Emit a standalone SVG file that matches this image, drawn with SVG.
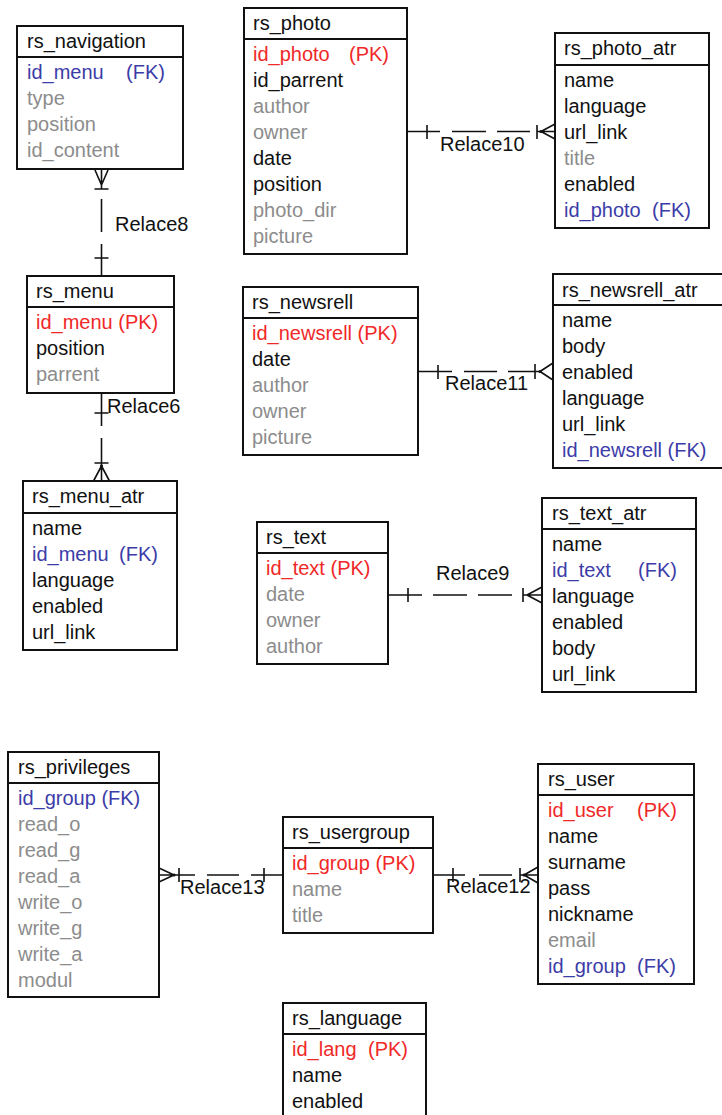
<svg xmlns="http://www.w3.org/2000/svg" width="722" height="1115" viewBox="0 0 722 1115">
  <style>
    text { font-family: "Liberation Sans", Arial, sans-serif; font-size: 20px; fill: #111; }
    .box { fill: #fff; stroke: #111; stroke-width: 2; }
    .sep { stroke: #111; stroke-width: 2; }
    .pk { fill: #f02828; }
    .fk { fill: #3c3ca8; }
    .opt { fill: #8c8c8c; }
    .rel { fill: none; stroke: #111; stroke-width: 1.6; }
    .dot { fill: #111; }
  </style>
  <rect width="722" height="1115" fill="#fff"/>

  <!-- Connectors (dashed non-identifying relationships) -->
  <g id="connectors">
    <!-- Relace8: rs_menu 1 : N rs_navigation -->
    <path class="rel" d="M95 170 L101.5 185 L108 170 M101.5 170 V189 M94.5 189 H108.5 M101.5 199 V232 M101.5 244 V276 M94.5 258 H108.5"/>
    <text x="115" y="231">Relace8</text>
    <!-- Relace6: rs_menu 1 : N rs_menu_atr -->
    <path class="rel" d="M101.5 393 V426 M94.5 413 H108.5 M101.5 438 V481 M94.5 463 H108.5 M101.5 466 L93.5 481 M101.5 466 L109.5 481"/>
    <circle class="dot" cx="101.5" cy="466" r="1.6"/>
    <text x="107" y="413">Relace6</text>
    <!-- Relace10: rs_photo 1 : N rs_photo_atr -->
    <path class="rel" d="M407 131.5 H440 M427 125 V139 M452 131.5 H486 M497 131.5 H530 M537 125 V139 M537 131.5 H555 M541 131.5 L555 124 M541 131.5 L555 139"/>
    <circle class="dot" cx="541" cy="131.5" r="1.6"/>
    <text x="440" y="151">Relace10</text>
    <!-- Relace11: rs_newsrell 1 : N rs_newsrell_atr -->
    <path class="rel" d="M418 371.5 H452 M438 365 V379 M464 371.5 H497 M508 371.5 H540 M535 364 V379 M540 371.5 L553 363 M540 371.5 L553 380"/>
    <circle class="dot" cx="540" cy="371.5" r="1.6"/>
    <text x="445" y="390">Relace11</text>
    <!-- Relace9: rs_text 1 : N rs_text_atr -->
    <path class="rel" d="M388 595 H422 M408 588 V602 M433 595 H467 M478 595 H512 M523 588 V602 M523 595 H542 M527 595 L542 587 M527 595 L542 603"/>
    <text x="436" y="580">Relace9</text>
    <!-- Relace12: rs_usergroup 1 : N rs_user -->
    <path class="rel" d="M433 875 H465 M453 868 V882 M479 875 H512 M520 868 V882 M520 875 H538 M524 875 L538 867 M524 875 L538 883"/>
    <circle class="dot" cx="524" cy="875" r="1.6"/>
    <text x="446" y="893">Relace12</text>
    <!-- Relace13: rs_usergroup 1 : N rs_privileges -->
    <path class="rel" d="M159 868 L174 875 L159 882 M159 875 H195 M179 868 V882 M207 875 H239 M251 875 H283 M264 868 V882"/>
    <circle class="dot" cx="174" cy="875" r="1.6"/>
    <text x="180" y="894">Relace13</text>
  </g>

  <!-- Tables -->
  <g id="rs_navigation">
    <rect class="box" x="17" y="26" width="166" height="143"/>
    <line class="sep" x1="17" y1="57" x2="183" y2="57"/>
    <text x="27" y="48">rs_navigation</text>
    <text x="27" y="79" class="fk">id_menu<tspan x="126">(FK)</tspan></text>
    <text x="27" y="105" class="opt">type</text>
    <text x="27" y="131" class="opt">position</text>
    <text x="27" y="157" class="opt">id_content</text>
  </g>

  <g id="rs_menu">
    <rect class="box" x="27" y="276" width="147" height="117"/>
    <line class="sep" x1="27" y1="307" x2="174" y2="307"/>
    <text x="36" y="298">rs_menu</text>
    <text x="36" y="329" class="pk">id_menu (PK)</text>
    <text x="36" y="355">position</text>
    <text x="36" y="381" class="opt">parrent</text>
  </g>

  <g id="rs_menu_atr">
    <rect class="box" x="23" y="481" width="154" height="169"/>
    <line class="sep" x1="23" y1="513" x2="177" y2="513"/>
    <text x="32" y="503">rs_menu_atr</text>
    <text x="32" y="535">name</text>
    <text x="32" y="561" class="fk">id_menu<tspan x="119">(FK)</tspan></text>
    <text x="32" y="587">language</text>
    <text x="32" y="613">enabled</text>
    <text x="32" y="639">url_link</text>
  </g>

  <g id="rs_photo">
    <rect class="box" x="244" y="8" width="163" height="246"/>
    <line class="sep" x1="244" y1="39" x2="407" y2="39"/>
    <text x="253" y="30">rs_photo</text>
    <text x="253" y="61" class="pk">id_photo<tspan x="349">(PK)</tspan></text>
    <text x="253" y="87">id_parrent</text>
    <text x="253" y="113" class="opt">author</text>
    <text x="253" y="139" class="opt">owner</text>
    <text x="253" y="165">date</text>
    <text x="253" y="191">position</text>
    <text x="253" y="217" class="opt">photo_dir</text>
    <text x="253" y="243" class="opt">picture</text>
  </g>

  <g id="rs_photo_atr">
    <rect class="box" x="555" y="33" width="154" height="195"/>
    <line class="sep" x1="555" y1="65" x2="709" y2="65"/>
    <text x="564" y="55">rs_photo_atr</text>
    <text x="564" y="87">name</text>
    <text x="564" y="113">language</text>
    <text x="564" y="139">url_link</text>
    <text x="564" y="165" class="opt">title</text>
    <text x="564" y="191">enabled</text>
    <text x="564" y="217" class="fk">id_photo<tspan x="652">(FK)</tspan></text>
  </g>

  <g id="rs_newsrell">
    <rect class="box" x="243" y="287" width="175" height="168"/>
    <line class="sep" x1="243" y1="318" x2="418" y2="318"/>
    <text x="252" y="309">rs_newsrell</text>
    <text x="252" y="340" class="pk">id_newsrell (PK)</text>
    <text x="252" y="366">date</text>
    <text x="252" y="392" class="opt">author</text>
    <text x="252" y="418" class="opt">owner</text>
    <text x="252" y="444" class="opt">picture</text>
  </g>

  <g id="rs_newsrell_atr">
    <rect class="box" x="553" y="274" width="180" height="194"/>
    <line class="sep" x1="553" y1="305" x2="733" y2="305"/>
    <text x="562" y="297">rs_newsrell_atr</text>
    <text x="562" y="327">name</text>
    <text x="562" y="353">body</text>
    <text x="562" y="379">enabled</text>
    <text x="562" y="405">language</text>
    <text x="562" y="431">url_link</text>
    <text x="562" y="457" class="fk">id_newsrell (FK)</text>
  </g>

  <g id="rs_text">
    <rect class="box" x="257" y="522" width="131" height="142"/>
    <line class="sep" x1="257" y1="553" x2="388" y2="553"/>
    <text x="266" y="544">rs_text</text>
    <text x="266" y="575" class="pk">id_text (PK)</text>
    <text x="266" y="601" class="opt">date</text>
    <text x="266" y="627" class="opt">owner</text>
    <text x="266" y="653" class="opt">author</text>
  </g>

  <g id="rs_text_atr">
    <rect class="box" x="542" y="498" width="154" height="194"/>
    <line class="sep" x1="542" y1="529" x2="696" y2="529"/>
    <text x="552" y="520">rs_text_atr</text>
    <text x="552" y="551">name</text>
    <text x="552" y="577" class="fk">id_text<tspan x="638">(FK)</tspan></text>
    <text x="552" y="603">language</text>
    <text x="552" y="629">enabled</text>
    <text x="552" y="655">body</text>
    <text x="552" y="681">url_link</text>
  </g>

  <g id="rs_privileges">
    <rect class="box" x="8" y="752" width="151" height="245"/>
    <line class="sep" x1="8" y1="783" x2="159" y2="783"/>
    <text x="18" y="774">rs_privileges</text>
    <text x="18" y="805" class="fk">id_group (FK)</text>
    <text x="18" y="831" class="opt">read_o</text>
    <text x="18" y="857" class="opt">read_g</text>
    <text x="18" y="883" class="opt">read_a</text>
    <text x="18" y="909" class="opt">write_o</text>
    <text x="18" y="935" class="opt">write_g</text>
    <text x="18" y="961" class="opt">write_a</text>
    <text x="18" y="987" class="opt">modul</text>
  </g>

  <g id="rs_usergroup">
    <rect class="box" x="283" y="817" width="150" height="116"/>
    <line class="sep" x1="283" y1="848" x2="433" y2="848"/>
    <text x="292" y="839">rs_usergroup</text>
    <text x="292" y="870" class="pk">id_group (PK)</text>
    <text x="292" y="896" class="opt">name</text>
    <text x="292" y="922" class="opt">title</text>
  </g>

  <g id="rs_user">
    <rect class="box" x="538" y="764" width="156" height="220"/>
    <line class="sep" x1="538" y1="795" x2="694" y2="795"/>
    <text x="548" y="786">rs_user</text>
    <text x="548" y="817" class="pk">id_user<tspan x="637">(PK)</tspan></text>
    <text x="548" y="843">name</text>
    <text x="548" y="869">surname</text>
    <text x="548" y="895">pass</text>
    <text x="548" y="921">nickname</text>
    <text x="548" y="947" class="opt">email</text>
    <text x="548" y="973" class="fk">id_group<tspan x="637">(FK)</tspan></text>
  </g>

  <g id="rs_language">
    <rect class="box" x="283" y="1003" width="143" height="125"/>
    <line class="sep" x1="283" y1="1034" x2="426" y2="1034"/>
    <text x="292" y="1025">rs_language</text>
    <text x="292" y="1056" class="pk">id_lang<tspan x="368">(PK)</tspan></text>
    <text x="292" y="1082">name</text>
    <text x="292" y="1108">enabled</text>
  </g>
</svg>
